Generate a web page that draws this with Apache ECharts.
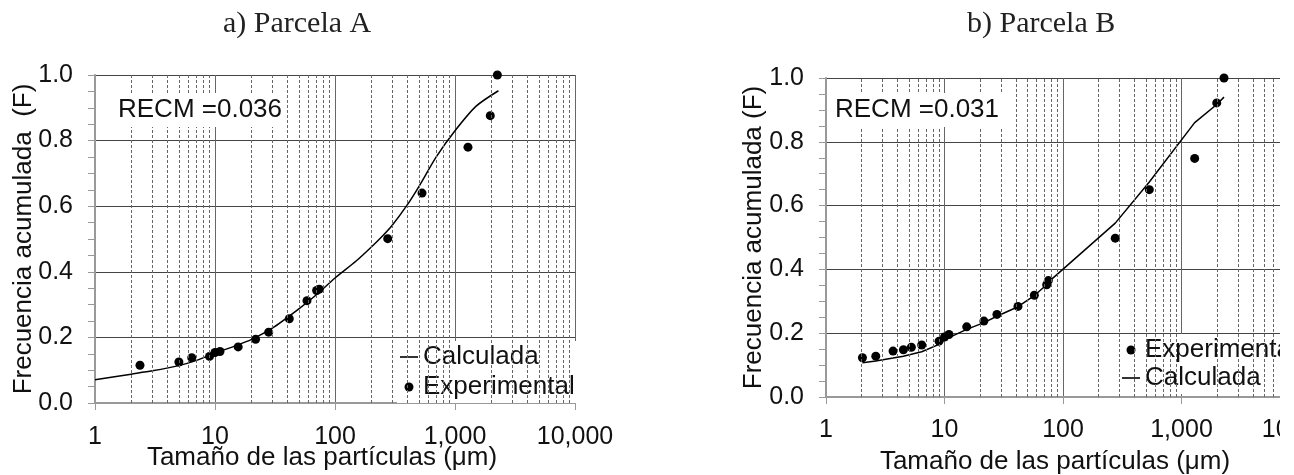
<!DOCTYPE html>
<html lang="es">
<head>
<meta charset="UTF-8">
<title>Frecuencia acumulada - Parcelas A y B</title>
<script src="https://cdn.jsdelivr.net/npm/echarts@6/dist/echarts.min.js"></script>
<style>
  body { margin: 0; background: #fff; overflow: hidden; }
  #chart-a { position: absolute; left: 0; top: 0; width: 647px; height: 475px; }
  /* el grafico B esta recortado por la derecha, como en la figura */
  #clip-b { position: absolute; left: 647px; top: 0; width: 633px; height: 475px; overflow: hidden; }
  #chart-b { width: 720px; height: 475px; }
</style>
</head>
<body>
<div id="chart-a"></div>
<div id="clip-b"><div id="chart-b"></div></div>
<script>
// a) Parcela A
const sizeA = [2.37, 5.0, 6.4, 9.0, 10.0, 11.0, 15.6, 21.8, 28, 41.6, 58.4, 70.3, 74, 275, 531, 1283, 1968, 2254];
const expA = [0.115, 0.125, 0.138, 0.142, 0.154, 0.157, 0.171, 0.194, 0.216, 0.257, 0.312, 0.343, 0.347, 0.501, 0.640, 0.780, 0.876, 1.0];
const calcSizeA = [1, 2, 3, 5, 7, 10, 15, 20, 30, 50, 70, 100, 150, 200, 250, 300, 400, 500, 700, 1000, 1500, 2300];
const calcA = [0.071, 0.088, 0.098, 0.114, 0.13, 0.152, 0.175, 0.193, 0.228, 0.287, 0.33, 0.381, 0.433, 0.475, 0.51, 0.542, 0.604, 0.66, 0.751, 0.83, 0.905, 0.952];

// b) Parcela B
const sizeB = [2.03, 2.63, 3.68, 4.5, 5.25, 6.42, 8.99, 10.0, 10.9, 15.4, 21.5, 27.7, 41.7, 57.3, 72.8, 75.2, 276, 535, 1292, 1983, 2284];
const expB = [0.123, 0.128, 0.144, 0.148, 0.156, 0.163, 0.175, 0.188, 0.196, 0.220, 0.238, 0.259, 0.284, 0.319, 0.352, 0.365, 0.498, 0.650, 0.748, 0.922, 1.0];
const calcB = [0.107, 0.113, 0.122, 0.128, 0.134, 0.142, 0.165, 0.18, 0.186, 0.212, 0.233, 0.253, 0.283, 0.318, 0.352, 0.36, 0.545, 0.674, 0.86, 0.917, 0.94];

// lineas de division secundarias (2..9 de cada decada)
const decades = [1, 10, 100, 1000];
const minorGrid = [];
decades.forEach(d => { for (let k = 2; k <= 9; k++) minorGrid.push(k * d); });

const sans = 'Liberation Sans, Arial, sans-serif';
const serif = 'Liberation Serif, Times New Roman, serif';

function zip(xs, ys) {
    return xs.map((x, i) => [x, ys[i]]);
}

function makeOption(c) {
    const legendIcons = {
        Calculada: 'path://M0,0L18,0L18,1.6L0,1.6Z',
        Experimental: 'circle'
    };
    return {
        animation: false,
        title: [
            {
                text: c.title, left: c.titleLeft, top: 4,
                textStyle: { fontFamily: serif, fontSize: 30, fontWeight: 'normal', color: '#222' }
            },
            {
                text: c.recm, left: c.recmLeft, top: 93,
                backgroundColor: '#fff', padding: [4, 5],
                textStyle: { fontFamily: sans, fontSize: 26, fontWeight: 'normal', color: '#111' }
            }
        ],
        legend: {
            orient: 'vertical', left: c.legendLeft, top: c.legendTop,
            backgroundColor: '#fff', padding: [3, 6, 3, 3], itemGap: c.legendGap,
            itemWidth: 18, itemHeight: 9, selectedMode: false,
            textStyle: { fontFamily: sans, fontSize: 26, color: '#111' },
            data: c.legendOrder.map(n => ({ name: n, icon: legendIcons[n] }))
        },
        grid: {
            left: c.grid[0], top: c.grid[1], width: c.grid[2], height: c.grid[3],
            containLabel: false, outerBoundsMode: 'none'
        },
        xAxis: {
            type: 'log', logBase: 10, min: 1, max: 10000,
            name: 'Tamaño de las partículas (μm)', nameLocation: 'middle',
            nameGap: c.xNameGap, nameMoveOverlap: false,
            nameTextStyle: { fontFamily: sans, fontSize: 26, color: '#111', padding: [0, c.xNameShift, 0, 0] },
            axisLine: { show: true, lineStyle: { color: '#999', width: 2 } },
            axisTick: { show: true, length: 7, lineStyle: { color: '#999' } },
            axisLabel: {
                margin: c.xLabelMargin, fontFamily: sans, fontSize: 25, color: '#111',
                formatter: v => Math.round(v).toLocaleString('en-US')
            },
            splitLine: { show: true, lineStyle: { color: '#666', width: 1 } }
        },
        yAxis: {
            type: 'value', min: 0, max: 1, interval: 0.2,
            name: c.yName, nameLocation: 'middle',
            nameGap: c.yNameGap, nameMoveOverlap: false,
            nameTextStyle: { fontFamily: sans, fontSize: 26, color: '#111' },
            axisLine: { show: true, lineStyle: { color: '#999', width: 2 } },
            axisTick: { show: true, length: 7, lineStyle: { color: '#999' } },
            minorTick: { show: true, splitNumber: 4, length: 7, lineStyle: { color: '#999' } },
            axisLabel: {
                margin: 22, fontFamily: sans, fontSize: 25, color: '#111',
                formatter: v => v.toFixed(1)
            },
            splitLine: { show: true, lineStyle: { color: '#444', width: 1 } }
        },
        series: [
            {
                name: 'Calculada', type: 'line', data: c.calc,
                smooth: c.smooth, symbol: 'none', showSymbol: false,
                lineStyle: { color: '#000', width: 1.5 },
                itemStyle: { color: '#000' },
                markLine: {
                    silent: true, symbol: ['none', 'none'], label: { show: false },
                    lineStyle: { color: '#666', type: [3, 2], width: 1 },
                    emphasis: { disabled: true },
                    data: minorGrid.map(v => ({ xAxis: v }))
                }
            },
            {
                name: 'Experimental', type: 'scatter', data: c.exp,
                symbolSize: 9, itemStyle: { color: '#000', opacity: 1 }
            }
        ]
    };
}

const chartA = echarts.init(document.getElementById('chart-a'));
chartA.setOption(makeOption({
    title: 'a) Parcela A', titleLeft: 218,
    recm: 'RECM =0.036', recmLeft: 113,
    legendLeft: 397, legendTop: 341, legendGap: 4,
    legendOrder: ['Calculada', 'Experimental'],
    grid: [95, 75, 480, 328],
    xNameGap: 42, xNameShift: 26, xLabelMargin: 22,
    yName: 'Frecuencia acumulada  (F)', yNameGap: 58,
    smooth: 0.25,
    calc: zip(calcSizeA, calcA),
    exp: zip(sizeA, expA)
}));

const chartB = echarts.init(document.getElementById('chart-b'));
chartB.setOption(makeOption({
    title: 'b) Parcela B', titleLeft: 315,
    recm: 'RECM =0.031', recmLeft: 183,
    legendLeft: 472, legendTop: 334, legendGap: 2,
    legendOrder: ['Experimental', 'Calculada'],
    grid: [179, 78, 474, 319],
    xNameGap: 52, xNameShift: 16, xLabelMargin: 21,
    yName: 'Frecuencia acumulada (F)', yNameGap: 59,
    smooth: false,
    calc: zip(sizeB, calcB),
    exp: zip(sizeB, expB)
}));
</script>
</body>
</html>
